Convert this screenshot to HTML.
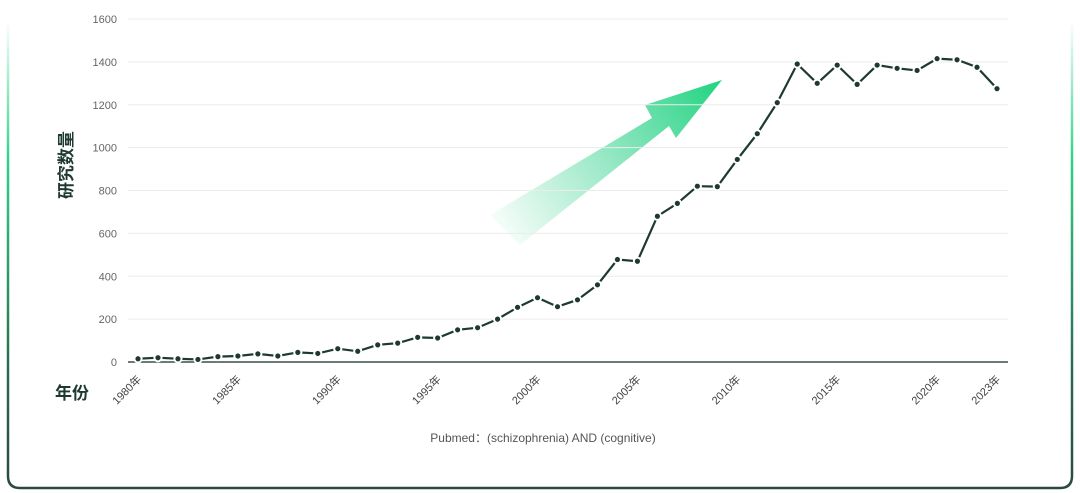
<!DOCTYPE html>
<html><head><meta charset="utf-8"><style>
body{margin:0;background:#fff;}
svg{display:block;font-family:"Liberation Sans","Noto Sans CJK SC",sans-serif;}
</style></head><body>
<svg id="c" width="1080" height="493" viewBox="0 0 1080 493">
<defs>
<linearGradient id="bl" x1="0" y1="0" x2="0" y2="1"><stop offset="0" stop-color="#2fd08a" stop-opacity="0"/><stop offset="0.3" stop-color="#2fd08a"/><stop offset="0.75" stop-color="#2a6a50"/><stop offset="1" stop-color="#2a4a3e"/></linearGradient>
<linearGradient id="ar" x1="490" y1="235" x2="722" y2="80" gradientUnits="userSpaceOnUse"><stop offset="0" stop-color="#2fd08a" stop-opacity="0"/><stop offset="0.5" stop-color="#2fd08a" stop-opacity="0.5"/><stop offset="1" stop-color="#1fd47f"/></linearGradient>
</defs>
<path d="M8 20 V476 Q8 488 20 488 H1060 Q1072 488 1072 476 V20" fill="none" stroke="url(#bl)" stroke-width="2.5"/>
<path d="M490 215 L652 118 L645 105 L722 80 L676 138 L669 126 L520 245 Z" fill="url(#ar)"/>
<g id="grid"></g>
<g id="series"></g>
<text x="0" y="0" transform="translate(72,165) rotate(-90)" text-anchor="middle" font-size="17" font-weight="bold" fill="#1e3a30">研究数量</text>
<text x="72" y="399" text-anchor="middle" font-size="17" font-weight="bold" fill="#1e3a30">年份</text>
<text x="543" y="442" text-anchor="middle" font-size="12" fill="#555">Pubmed：(schizophrenia) AND (cognitive)</text>
</svg>
<script>
const years=[1980,1981,1982,1983,1984,1985,1986,1987,1988,1989,1990,1991,1992,1993,1994,1995,1996,1997,1998,1999,2000,2001,2002,2003,2004,2005,2006,2007,2008,2009,2010,2011,2012,2013,2014,2015,2016,2017,2018,2019,2020,2021,2022,2023];
const counts=[15,20,15,12,25,28,38,28,45,40,62,50,80,88,115,112,150,160,200,255,300,258,290,360,478,470,680,740,820,818,945,1065,1210,1390,1300,1385,1295,1385,1370,1360,1415,1410,1375,1275];
const yTicks=[0,200,400,600,800,1000,1200,1400,1600];
const xTickYears=[1980,1985,1990,1995,2000,2005,2010,2015,2020,2023];
const NS="http://www.w3.org/2000/svg";
const x0=138,x1=997,yb=362,yt=19;
const X=y=>x0+(y-years[0])*(x1-x0)/(years[years.length-1]-years[0]);
const Y=v=>yb-v*(yb-yt)/1600;
function mk(t,a,p){const e=document.createElementNS(NS,t);for(const k in a)e.setAttribute(k,a[k]);p.appendChild(e);return e;}
const g=document.getElementById('grid'),s=document.getElementById('series');
yTicks.forEach(v=>{
 if(v>0){const l=mk('line',{x1:128,x2:1008,y1:Y(v),y2:Y(v),stroke:'#ececec','stroke-width':1},g);
 
 }
 const t=mk('text',{x:117,y:Y(v)+4,'text-anchor':'end','font-size':11,fill:'#666'},g);t.textContent=v;
 
 
});
const ax=mk('line',{x1:128,x2:1008,y1:yb,y2:yb,stroke:'#3a5048','stroke-width':1.5},g);


xTickYears.forEach(yr=>{
 const t=mk('text',{x:0,y:0,transform:`translate(${X(yr)+4},${yb+18}) rotate(-45)`,'text-anchor':'end','font-size':11,fill:'#444'},g);
 t.textContent=yr+'年';
 
 
});
const pl=mk('polyline',{points:years.map((y,i)=>X(y)+','+Y(counts[i])).join(' '),fill:'none',stroke:'#1e3a30','stroke-width':2.2},s);


years.forEach((y,i)=>{
 const c=mk('circle',{cx:X(y),cy:Y(counts[i]),r:3.6,fill:'#1e3a30',stroke:'#fff','stroke-width':2},s);
 
 
});
</script>
</body></html>
